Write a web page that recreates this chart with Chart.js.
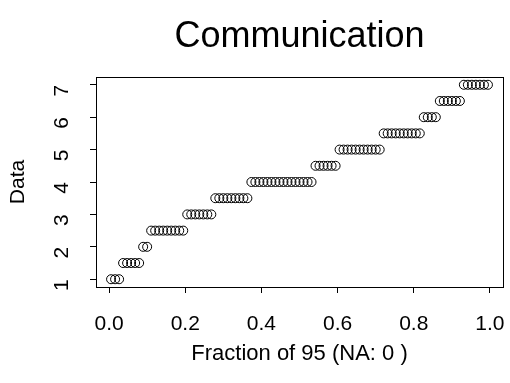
<!DOCTYPE html>
<html><head>
<meta charset="utf-8">
<script src="https://cdn.jsdelivr.net/npm/chart.js@4/dist/chart.umd.min.js"></script>
<style>html,body{margin:0;padding:0;background:#fff}#wrap{width:510px;height:383px}</style>
</head><body><div id="wrap"><canvas id="c" width="510" height="383"></canvas></div>
<script>
// Sorted data levels and how many of the 95 observations sit at each level
const levels = [1, 1.5, 2, 2.5, 3, 3.5, 4, 4.5, 5, 5.5, 6, 6.5, 7];
const counts = [3, 5, 2, 9, 7, 9, 16, 6, 11, 10, 4, 6, 7];
const xTicks = [0, 0.2, 0.4, 0.6, 0.8, 1.0];
const yTicks = [1, 2, 3, 4, 5, 6, 7];
const chartTitle = 'Communication';
const xTitle = 'Fraction of 95 (NA: 0 )';
const yTitle = 'Data';

const values = [];
levels.forEach((v, k) => { for (let j = 0; j < counts[k]; j++) values.push(v); });
const n = values.length;
const points = values.map((v, i) => ({ x: (i + 0.5) / n, y: v }));

const xr = [0.5 / n, (n - 0.5) / n];
const xpad = (xr[1] - xr[0]) * 0.04;
const yr = [levels[0], levels[levels.length - 1]];
const ypad = (yr[1] - yr[0]) * 0.04;

const FONT = '"Liberation Sans", Arial, Helvetica, sans-serif';

const boxPlugin = {
  id: 'box',
  afterDraw(chart) {
    const a = chart.chartArea, ctx = chart.ctx;
    ctx.save();
    ctx.strokeStyle = '#000';
    ctx.lineWidth = 1;
    ctx.strokeRect(Math.round(a.left) + 0.5, Math.round(a.top) + 0.5,
      Math.round(a.right - a.left), Math.round(a.bottom - a.top));
    ctx.restore();
  }
};

const noSidePad = s => { s.paddingLeft = 0; s.paddingRight = 0; };

new Chart(document.getElementById('c'), {
  type: 'scatter',
  data: {
    datasets: [{
      data: points,
      pointStyle: 'circle',
      pointRadius: 4.5,
      pointBorderWidth: 1,
      borderColor: '#000',
      backgroundColor: 'rgba(0,0,0,0)',
      showLine: false
    }]
  },
  options: {
    responsive: false,
    animation: false,
    devicePixelRatio: 1,
    layout: { padding: { left: 0, right: 7, top: 0, bottom: 0 } },
    plugins: {
      legend: { display: false },
      tooltip: { enabled: false },
      title: { display: false }
    },
    scales: {
      x: {
        type: 'linear', position: 'bottom',
        min: xr[0] - xpad, max: xr[1] + xpad,
        afterBuildTicks: s => { s.ticks = xTicks.map(v => ({ value: v })); },
        afterFit: s => { s.height = 96; noSidePad(s); },
        ticks: {
          color: '#000', padding: 19, maxRotation: 0, autoSkip: false,
          font: { family: FONT, size: 21 },
          callback: v => Number(v).toFixed(1)
        },
        grid: { display: true, drawOnChartArea: false, drawTicks: true, tickLength: 6, color: '#000', lineWidth: 1 },
        border: { display: true, color: '#000', width: 1 },
        title: { display: true, text: xTitle, color: '#000', font: { family: FONT, size: 22 }, padding: { top: 0, bottom: 16 } }
      },
      top: {
        type: 'linear', position: 'top',
        min: xr[0] - xpad, max: xr[1] + xpad,
        afterFit: s => { s.height = 77; noSidePad(s); },
        ticks: { display: false },
        grid: { display: false, drawTicks: false },
        border: { display: false },
        title: { display: true, text: chartTitle, color: '#000', font: { family: FONT, size: 36 }, padding: { top: 15, bottom: 0 } }
      },
      y: {
        type: 'linear',
        min: yr[0] - ypad, max: yr[1] + ypad,
        afterBuildTicks: s => { s.ticks = yTicks.map(v => ({ value: v })); },
        afterFit: s => { s.width = 96; },
        ticks: {
          color: '#000', padding: 28, minRotation: 90, maxRotation: 90, autoSkip: false,
          font: { family: FONT, size: 21 },
          callback: v => String(v)
        },
        grid: { display: true, drawOnChartArea: false, drawTicks: true, tickLength: 6, color: '#000', lineWidth: 1 },
        border: { display: true, color: '#000', width: 1 },
        title: { display: true, text: yTitle, color: '#000', font: { family: FONT, size: 21 }, padding: { top: 6, bottom: 0 } }
      }
    }
  },
  plugins: [boxPlugin]
});
</script>
</body></html>
